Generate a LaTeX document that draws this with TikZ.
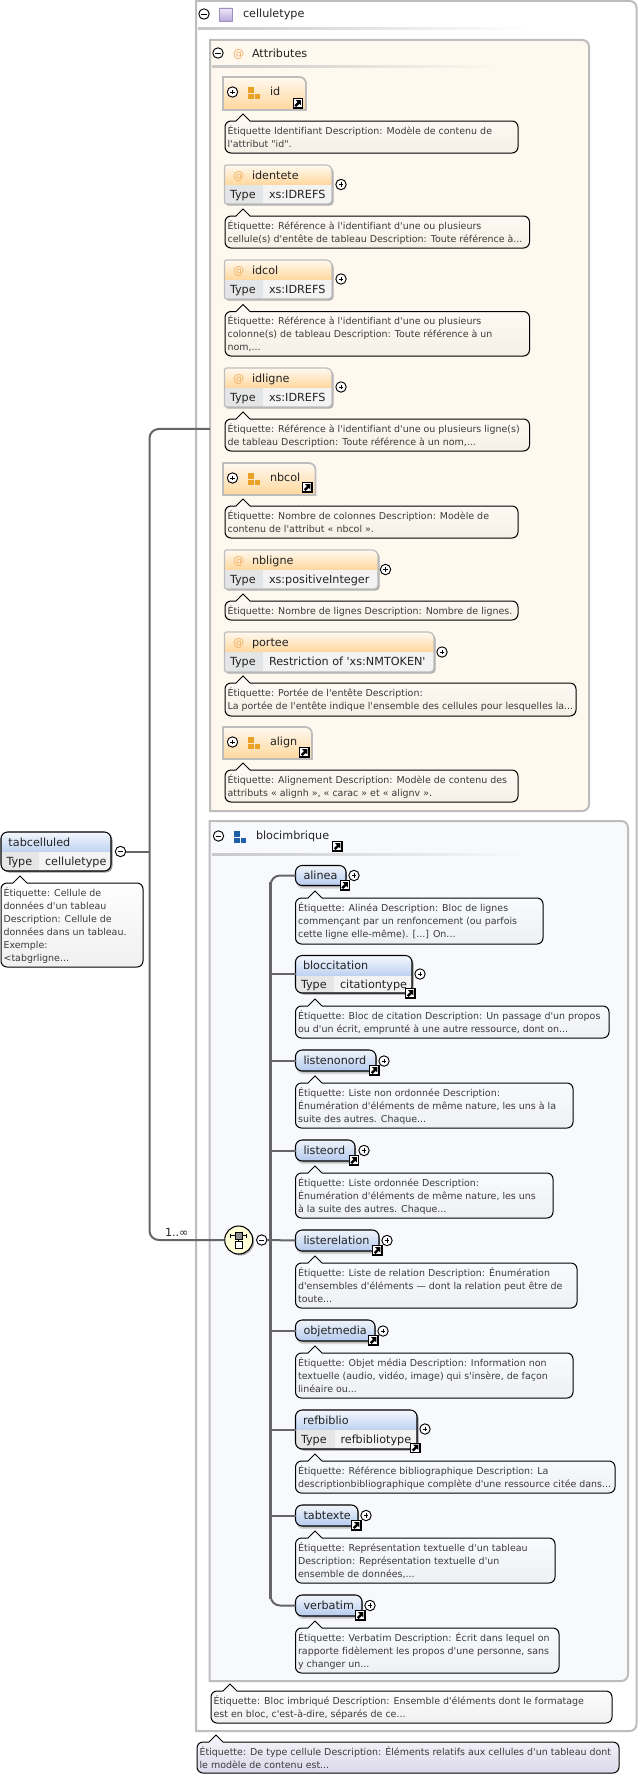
\documentclass[tikz,border=0pt]{standalone}
\usepackage{fontspec}
\newfontfamily\djv{DejaVu Sans}[Ligatures=NoCommon]
\usetikzlibrary{calc}
\definecolor{grpborder}{HTML}{BDBDBD}
\definecolor{attrfill}{HTML}{FFF8EE}
\definecolor{blocfill}{HTML}{F7F9FD}
\definecolor{connc}{HTML}{666666}
\definecolor{txtc}{HTML}{222222}
\definecolor{tipt}{HTML}{3A3A3A}
\definecolor{orangeic}{HTML}{E9A227}
\definecolor{blueic}{HTML}{1F5FA8}
\definecolor{atc}{HTML}{F0AE5E}
\definecolor{attrtipA}{HTML}{FFFBF5}
\definecolor{attrtipB}{HTML}{F5EFE6}
\definecolor{bloctipA}{HTML}{FBFCFE}
\definecolor{bloctipB}{HTML}{EFF0F4}
\definecolor{wtipA}{HTML}{FFFFFF}
\definecolor{wtipB}{HTML}{F0F0F0}
\definecolor{ltipA}{HTML}{F7F5FB}
\definecolor{ltipB}{HTML}{DCD8EA}
\definecolor{FFF9F0}{HTML}{FFF9F0}
\definecolor{FFD79C}{HTML}{FFD79C}
\definecolor{E4E5E7}{HTML}{E4E5E7}
\definecolor{F3F3F3}{HTML}{F3F3F3}
\definecolor{F1F5FC}{HTML}{F1F5FC}
\definecolor{B4CAEE}{HTML}{B4CAEE}
\definecolor{F4F7FD}{HTML}{F4F7FD}
\definecolor{BFD2F1}{HTML}{BFD2F1}
\definecolor{E6E6E6}{HTML}{E6E6E6}
\definecolor{hl}{HTML}{C8C8C8}
\definecolor{EEE9F7}{HTML}{EEE9F7}
\definecolor{B9A9DC}{HTML}{B9A9DC}
\definecolor{A090C0}{HTML}{A090C0}
\definecolor{FFFFD8}{HTML}{FFFFD8}
\newcommand{\namefont}{\djv\fontsize{8.4pt}{9.75pt}\selectfont}
\newcommand{\tipfont}{\djv\fontsize{7.1pt}{9.75pt}\selectfont}
\tikzset{
  x=0.75pt,y=-0.75pt,
  conn/.style={draw=connc,line width=1.5pt},
  spine/.style={draw=connc,line width=2pt},
  nametxt/.style={anchor=base west,inner sep=0pt,outer sep=0pt,font=\namefont,text=txtc},
  tiptxt/.style={anchor=north west,inner sep=0pt,outer sep=0pt,align=left,font=\tipfont,text=tipt},
  circ/.style={circle,draw=black,fill=white,line width=0.7pt,minimum size=7.8pt,inner sep=0pt,outer sep=0pt},
  grp/.style={draw=grpborder,line width=1.5pt},
  blueout/.style={rounded corners=5pt,draw=black,line width=0.8pt,inner sep=0pt,outer sep=0pt},
  invis/.style={inner sep=0pt,outer sep=0pt},
}
% circle buttons
\newcommand{\minusnode}[3]{\pgfmathsetmacro\bX{#2}\pgfmathsetmacro\bY{#3}\node[circ] (#1) at (\bX,\bY) {};
  \draw[black,line width=0.7pt] ({\bX-2.6},\bY) -- ({\bX+2.6},\bY);}
\newcommand{\plusnode}[3]{\pgfmathsetmacro\bX{#2}\pgfmathsetmacro\bY{#3}\node[circ] (#1) at (\bX,\bY) {};
  \draw[black,line width=0.6pt] ({\bX-2.4},\bY) -- ({\bX+2.4},\bY) (\bX,{\bY-2.4}) -- (\bX,{\bY+2.4});}
% link icon: x0 y0
\newcommand{\linkicon}[2]{
  \fill[black] (#1,#2) rectangle ({#1+10.5},{#2+10.5});
  \fill[white] ({#1+1.2},{#2+1.2}) rectangle ({#1+9.3},{#2+9.3});
  \fill[black] ({#1+3.2},{#2+2.2}) -- ({#1+8.4},{#2+2.2}) -- ({#1+8.4},{#2+7.4}) -- ({#1+6.8},{#2+5.8}) -- ({#1+3.6},{#2+9}) -- ({#1+1.8},{#2+7.2}) -- ({#1+5},{#2+4}) -- cycle;}
% group icon
\newcommand{\grpicon}[3]{\pgfmathsetmacro\bY{#2}
  \fill[#3] (#1,\bY) rectangle ({#1+5.5},{\bY+5.7});
  \fill[#3] (#1,{\bY+7}) rectangle ({#1+5.5},{\bY+12.3});
  \fill[#3] ({#1+6.7},{\bY+7}) rectangle ({#1+12.2},{\bY+12.3});}
% at sign
\newcommand{\atsign}[3]{\pgfmathsetmacro\bY{#3}\node[nametxt,text=atc] (#1) at (#2,\bY) {@};}
% tip: name x0 y0 x1 y1 px top bottom lines
\newcommand{\tip}[9]{
  \path[draw=black,line width=0.75pt,top color=#7,bottom color=#8]
    ({#6-7},#3) -- (#6,{#3-7}) -- ({#6+7},#3) -- ({#4-6},#3) .. controls ({#4-2.7},#3) and (#4,{#3+2.7}) .. (#4,{#3+6}) -- (#4,{#5-6}) .. controls (#4,{#5-2.7}) and ({#4-2.7},#5) .. ({#4-6},#5) -- ({#2+6},#5) .. controls ({#2+2.7},#5) and (#2,{#5-2.7}) .. (#2,{#5-6}) -- (#2,{#3+6}) .. controls (#2,{#3+2.7}) and ({#2+2.7},#3) .. ({#2+6},#3) -- cycle;
  \node[tiptxt] (#1) at ({#2+2.6},{#3+3}) {\rule{0pt}{7.5pt}#9};}
\newcommand{\atip}[7]{\tip{#1}{#2}{#3}{#4}{#5}{#6}{attrtipA}{attrtipB}{#7}}
\newcommand{\btip}[7]{\tip{#1}{#2}{#3}{#4}{#5}{#6}{bloctipA}{bloctipB}{#7}}
% attribute shape
\def\shp#1#2#3#4{({(#1+#3)/2},#2) [rounded corners=4.5pt] -- (#3,#2) [rounded corners=3pt] -- (#3,#4) [rounded corners=1.5pt] -- (#1,#4) -- (#1,#2) -- cycle}
\newcommand{\namedbox}[5]{\node[invis,anchor=north west,minimum width={(#4-#2)*0.75pt},minimum height={(#5-#3)*0.75pt}] (#1) at (#2,#3) {};}
% typed attribute: name x0 y0 x1 y1 title type
\newcommand{\typedattr}[7]{
  \namedbox{#1}{#2}{#3}{#4}{#5}
  \fill[black!32,xshift=1.2pt,yshift=-1.2pt] \shp{#2}{#3}{#4}{#5};
  \begin{scope}
    \clip \shp{#2}{#3}{#4}{#5};
    \shade[top color=FFF9F0,bottom color=FFD79C] (#2,#3) rectangle (#4,{#3+20});
    \fill[E4E5E7] (#2,{#3+20}) rectangle (263,#5);
    \fill[F3F3F3] (263,{#3+20}) rectangle (#4,#5);
  \end{scope}
  \draw[draw=grpborder,line width=0.9pt] \shp{#2}{#3}{#4}{#5};
  \atsign{#1-at}{233}{#3+14}
  \node[nametxt] (#1-t) at (252,{#3+14}) {#6};
  \node[nametxt] (#1-ty) at (230,{#3+33}) {Type};
  \node[nametxt] (#1-v) at (269,{#3+33}) {#7};}
% attribute reference: name x0 y0 x1 y1 title
\newcommand{\refattr}[6]{
  \namedbox{#1}{#2}{#3}{#4}{#5}
  \path[draw=grpborder,line width=1.3pt,top color=FFF9F0,bottom color=FFD79C]
    (#2,#5) -- (#2,#3) [rounded corners=5pt] -- (#4,#3) [sharp corners] -- (#4,#5) -- cycle;
  \plusnode{#1-p}{232.5}{#3+15}
  \grpicon{248}{#3+10}{orangeic}
  \node[nametxt] (#1-t) at (270,{#3+18}) {#6};}
% blue element
\newcommand{\blueel}[6]{
  \fill[black!16,rounded corners=5pt] ({#2+1},{#3+3}) rectangle ({#4+1},{#5+3});
  \fill[black!28,rounded corners=5pt] ({#2+1},{#3+1.5}) rectangle ({#4+1},{#5+1.5});
  \node[blueout,top color=F1F5FC,bottom color=B4CAEE,anchor=north west,minimum width={(#4-#2)*0.75pt},minimum height={(#5-#3)*0.75pt}] (#1) at (#2,#3) {};
  \node[nametxt] (#1-t) at ({#2+8},{#3+14}) {#6};}
% typed blue element: name x0 y0 x1 y1 xcell title type
\newcommand{\bluetyped}[8]{
  \fill[black!40,rounded corners=5pt] ({#2+1.5},{#3+1.5}) rectangle ({#4+1.5},{#5+1.5});
  \begin{scope}
    \clip[rounded corners=5pt] (#2,#3) rectangle (#4,#5);
    \shade[top color=F4F7FD,bottom color=BFD2F1] (#2,#3) rectangle (#4,{#3+20});
    \fill[E6E6E6] (#2,{#3+20}) rectangle (#6,#5);
    \fill[F3F3F3] (#6,{#3+20}) rectangle (#4,#5);
  \end{scope}
  \node[blueout,anchor=north west,minimum width={(#4-#2)*0.75pt},minimum height={(#5-#3)*0.75pt}] (#1) at (#2,#3) {};
  \node[nametxt] (#1-t) at ({#2+7.5},{#3+14}) {#7};
  \node[nametxt] (#1-ty) at ({#2+5.5},{#3+33}) {Type};
  \node[nametxt] (#1-v) at ({#6+6},{#3+33}) {#8};}
\begin{document}
\begin{tikzpicture}
\useasboundingbox (0,0) rectangle (638,1777);
\fill[white] (0,0) rectangle (638,1777);

% outer celluletype group
\path[grp,fill=white] (196,1) [rounded corners=5pt] -- (636.5,1) -- (636.5,1731) [sharp corners] -- (196,1731) -- cycle;
\namedbox{celluletype}{196}{1}{636}{1731}
\minusnode{ctm}{204}{14}
\path[top color=EEE9F7,bottom color=B9A9DC,draw=A090C0,line width=0.6pt] (219,8) rectangle (232,21);
\node[nametxt] (ctt) at (243,18) {celluletype};
\shade[left color=hl,right color=white] (198,27.7) rectangle (530,29.7);

% Attributes group
\path[grp,fill=attrfill] (210,40) [rounded corners=5pt] -- (589,40) -- (589,811) [sharp corners] -- (210,811) -- cycle;
\namedbox{attrs}{210}{40}{589}{811}
\minusnode{am}{218}{53}
\atsign{aat}{233}{58}
\node[nametxt] (att) at (252,57.5) {Attributes};
\shade[left color=hl,right color=attrfill] (212,66) rectangle (500,67.5);

% attribute items
\refattr{id}{223}{77}{306}{110}{id}
\linkicon{292.5}{98}
\atip{idtip}{225}{121}{518}{153}{243}{Étiquette Identifiant Description: Modèle de contenu de\\l'attribut "id".}

\typedattr{identete}{224.5}{165}{332}{204}{identete}{xs:IDREFS}
\plusnode{identetep}{341}{184.5}
\atip{identetetip}{225}{216}{529.5}{248}{243}{Étiquette: Référence à l'identifiant d'une ou plusieurs\\cellule(s) d'entête de tableau Description: Toute référence à...}

\typedattr{idcol}{224.5}{260}{332}{299}{idcol}{xs:IDREFS}
\plusnode{idcolp}{341}{279}
\atip{idcoltip}{225}{311.5}{529.5}{356}{243}{Étiquette: Référence à l'identifiant d'une ou plusieurs\\colonne(s) de tableau Description: Toute référence à un\\nom,...}

\typedattr{idligne}{224.5}{368}{332}{407}{idligne}{xs:IDREFS}
\plusnode{idlignep}{341}{387}
\atip{idlignetip}{225}{419}{529.5}{451}{243}{Étiquette: Référence à l'identifiant d'une ou plusieurs ligne(s)\\de tableau Description: Toute référence à un nom,...}

\refattr{nbcol}{223}{463}{315.5}{495}{nbcol}
\linkicon{302}{482}
\atip{nbcoltip}{225}{506}{518}{538}{243}{Étiquette: Nombre de colonnes Description: Modèle de\\contenu de l'attribut « nbcol ».}

\typedattr{nbligne}{224.5}{550}{378}{589}{nbligne}{xs:positiveInteger}
\plusnode{nblignep}{385.5}{569.5}
\atip{nblignetip}{225}{601}{518}{620}{243}{Étiquette: Nombre de lignes Description: Nombre de lignes.}

\typedattr{portee}{224.5}{632}{434}{672}{portee}{Restriction of 'xs:NMTOKEN'}
\plusnode{porteep}{442}{652}
\atip{porteetip}{225}{683}{576}{716}{243}{Étiquette: Portée de l'entête Description:\\La portée de l'entête indique l'ensemble des cellules pour lesquelles la...}

\refattr{align}{223}{727}{312}{759}{align}
\linkicon{299}{747}
\atip{aligntip}{225}{770}{518}{802}{243}{Étiquette: Alignement Description: Modèle de contenu des\\attributs « alignh », « carac » et « alignv  ».}

% blocimbrique group
\path[grp,fill=blocfill] (209.5,821) [rounded corners=5pt] -- (628,821) -- (628,1681) [sharp corners] -- (209.5,1681) -- cycle;
\namedbox{bloc}{209.5}{821}{628}{1681}
\minusnode{bm}{218.5}{836}
\grpicon{234}{831}{blueic}
\node[nametxt] (bt) at (256,839) {blocimbrique};
\linkicon{332}{841}
\shade[left color=hl,right color=blocfill] (212,853.5) rectangle (525,855);

% sequence
\fill[black!35] (240.2,1241.5) circle (14);
\node[circle,draw=black,line width=0.8pt,fill=FFFFD8,minimum size=21pt,inner sep=0pt,outer sep=0pt] (seq) at (238.7,1240) {};
\draw[black,line width=0.7pt] (230.7,1235.7) -- (246.7,1235.7) (230.7,1233.7) -- (230.7,1237.7) (246.7,1233.7) -- (246.7,1237.7) (238.7,1239) -- (238.7,1242);
\path[fill=black!45,draw=black,line width=0.5pt] (235.2,1232) rectangle (242.2,1239);
\path[fill=white,draw=black,line width=0.6pt] (235.2,1241.7) rectangle (242.2,1248);
\minusnode{seqm}{261.7}{1240}

% blue items
\blueel{alinea}{295.5}{865.5}{346}{885.5}{alinea}
\plusnode{alineap}{354}{875.5}
\linkicon{339.5}{880}
\btip{alineatip}{295.5}{898}{543}{944}{315}{Étiquette: Alinéa Description: Bloc de lignes\\commençant par un renfoncement (ou parfois\\cette ligne elle-même). [...] On...}

\bluetyped{bloccitation}{295.5}{955.5}{412}{993}{334}{bloccitation}{citationtype}
\plusnode{bloccitationp}{420}{974}
\linkicon{405}{988}
\btip{bloccitationtip}{295.5}{1006}{609}{1038}{315}{Étiquette: Bloc de citation Description: Un passage d'un propos\\ou d'un écrit, emprunté à une autre ressource, dont on...}

\blueel{listenonord}{295.5}{1050}{376}{1071}{listenonord}
\plusnode{listenonordp}{384}{1061}
\linkicon{369}{1065}
\btip{listenonordtip}{295.5}{1083}{573}{1128}{315}{Étiquette: Liste non ordonnée Description:\\Énumération d'éléments de même nature, les uns à la\\suite des autres. Chaque...}

\blueel{listeord}{295.5}{1140}{355}{1161}{listeord}
\plusnode{listeordp}{364}{1150.5}
\linkicon{348.5}{1155}
\btip{listeordtip}{295.5}{1173}{553}{1218}{315}{Étiquette: Liste ordonnée Description:\\Énumération d'éléments de même nature, les uns\\à la suite des autres. Chaque...}

\blueel{listerelation}{295.5}{1230}{379}{1251}{listerelation}
\plusnode{listerelationp}{387}{1240.5}
\linkicon{372}{1245}
\btip{listerelationtip}{295.5}{1263}{577}{1308}{315}{Étiquette: Liste de relation Description: Énumération\\d'ensembles d'éléments — dont la relation peut être de\\toute...}

\blueel{objetmedia}{295.5}{1320}{375}{1341}{objetmedia}
\plusnode{objetmediap}{383}{1331}
\linkicon{368}{1335}
\btip{objetmediatip}{295.5}{1353}{573}{1398}{315}{Étiquette: Objet média Description: Information non\\textuelle (audio, vidéo, image) qui s'insère, de façon\\linéaire ou...}

\bluetyped{refbiblio}{295.5}{1410}{417}{1449}{334.5}{refbiblio}{refbibliotype}
\plusnode{refbibliop}{425}{1429}
\linkicon{410}{1442.5}
\btip{refbibliotip}{295.5}{1461}{615}{1493}{315}{Étiquette: Référence bibliographique Description: La\\descriptionbibliographique complète d'une ressource citée dans...}

\blueel{tabtexte}{295.5}{1505}{358}{1526}{tabtexte}
\plusnode{tabtextep}{366}{1515.5}
\linkicon{351}{1520}
\btip{tabtextetip}{295.5}{1538}{555}{1583}{315}{Étiquette: Représentation textuelle d'un tableau\\Description: Représentation textuelle d'un\\ensemble de données,...}

\blueel{verbatim}{295.5}{1595}{362}{1616}{verbatim}
\plusnode{verbatimp}{370}{1605.5}
\linkicon{355}{1610}
\btip{verbatimtip}{295.5}{1628}{559}{1673}{315}{Étiquette: Verbatim Description: Écrit dans lequel on\\rapporte fidèlement les propos d'une personne, sans\\y changer un...}

% group tips
\tip{bloctip}{211}{1691}{612}{1723}{230}{wtipA}{wtipB}{Étiquette: Bloc imbriqué Description: Ensemble d'éléments dont le formatage\\est en bloc, c'est-à-dire, séparés de ce...}
\tip{cttip}{197}{1742}{619}{1773}{216}{ltipA}{ltipB}{Étiquette: De type cellule Description: Éléments relatifs aux cellules d'un tableau dont\\le modèle de contenu est...}

% root
\bluetyped{root}{1}{832}{111}{871}{39}{tabcelluled}{celluletype}
\minusnode{rootm}{120.5}{851.5}
\tip{roottip}{1}{883}{143}{967}{20}{wtipA}{wtipB}{Étiquette: Cellule de\\données d'un tableau\\Description: Cellule de\\données dans un tableau.\\Exemple:\\<tabgrligne...}

% connectors
\coordinate (sx) at (270.7,1240);
\coordinate (tx) at (149.5,851.5);
\draw[conn] (rootm.east) -- (tx);
\draw[conn,rounded corners=7pt] ([yshift=-2.6pt]attrs.west) -| (tx) |- (seq.west);
\draw[conn,rounded corners=7pt] (alinea.west) -| (sx) |- (verbatim.west);
\draw[spine] ([yshift=-5pt]sx |- alinea.west) -- ([yshift=5pt]sx |- verbatim.west);
\draw[conn] (seqm.east) -- (listerelation.west);
\foreach \n in {bloccitation,listenonord,listeord,objetmedia,refbiblio,tabtexte}
  \draw[conn] (sx |- \n.west) -- (\n.west);
\node[nametxt] (mult) at (165,1236) {1..∞};
\end{tikzpicture}
\end{document}
